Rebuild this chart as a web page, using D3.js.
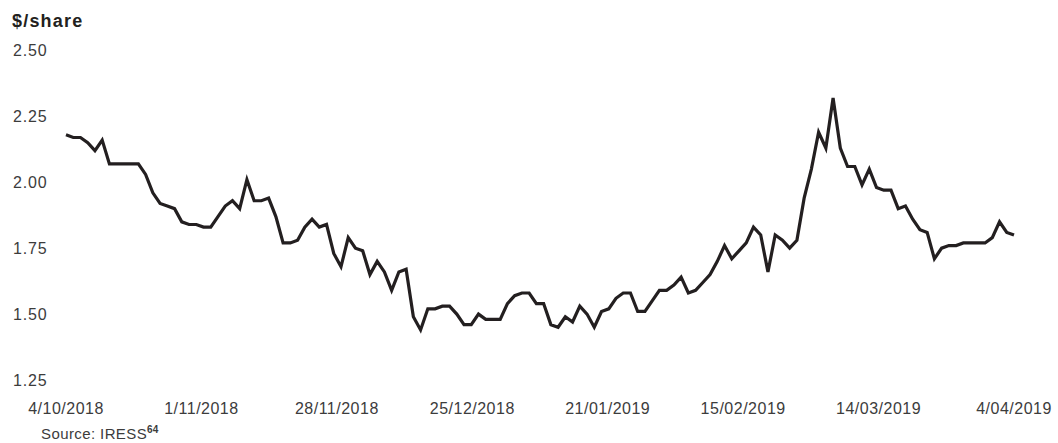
<!DOCTYPE html>
<html>
<head>
<meta charset="utf-8">
<script src="https://cdn.jsdelivr.net/npm/d3@7"></script>
<style>
  body { margin: 0; background: #fff; }
  text { font-family: "Liberation Sans", Arial, sans-serif; }
</style>
</head>
<body>
<div id="chart"></div>
<script>
// share price, one value per trading day
var prices = [
  2.18, 2.17, 2.17, 2.15, 2.12, 2.16, 2.07, 2.07, 2.07, 2.07,
  2.07, 2.03, 1.96, 1.92, 1.91, 1.90, 1.85, 1.84, 1.84, 1.83,
  1.83, 1.87, 1.91, 1.93, 1.90, 2.01, 1.93, 1.93, 1.94, 1.87,
  1.77, 1.77, 1.78, 1.83, 1.86, 1.83, 1.84, 1.73, 1.68, 1.79,
  1.75, 1.74, 1.65, 1.70, 1.66, 1.59, 1.66, 1.67, 1.49, 1.44,
  1.52, 1.52, 1.53, 1.53, 1.50, 1.46, 1.46, 1.50, 1.48, 1.48,
  1.48, 1.54, 1.57, 1.58, 1.58, 1.54, 1.54, 1.46, 1.45, 1.49,
  1.47, 1.53, 1.50, 1.45, 1.51, 1.52, 1.56, 1.58, 1.58, 1.51,
  1.51, 1.55, 1.59, 1.59, 1.61, 1.64, 1.58, 1.59, 1.62, 1.65,
  1.70, 1.76, 1.71, 1.74, 1.77, 1.83, 1.80, 1.66, 1.80, 1.78,
  1.75, 1.78, 1.94, 2.05, 2.19, 2.13, 2.32, 2.13, 2.06, 2.06,
  1.99, 2.05, 1.98, 1.97, 1.97, 1.90, 1.91, 1.86, 1.82, 1.81,
  1.71, 1.75, 1.76, 1.76, 1.77, 1.77, 1.77, 1.77, 1.79, 1.85,
  1.81, 1.80
];

var dateLabels = ["4/10/2018", "1/11/2018", "28/11/2018", "25/12/2018",
                  "21/01/2019", "15/02/2019", "14/03/2019", "4/04/2019"];

var yTicks = [2.50, 2.25, 2.00, 1.75, 1.50, 1.25];

var width = 1058;
var height = 443;

var svg = d3.select("#chart").append("svg")
    .attr("width", width)
    .attr("height", height);

var x = d3.scaleLinear()
    .domain([0, prices.length - 1])
    .range([66, 1014]);

var y = d3.scaleLinear()
    .domain([1.25, 2.50])
    .range([380, 50.5]);

// unit title
svg.append("text")
    .attr("x", 12)
    .attr("y", 27)
    .attr("font-size", 18)
    .attr("font-weight", "bold")
    .attr("letter-spacing", 1.2)
    .attr("fill", "#231f20")
    .text("$/share");

// y tick labels, no gridlines in the original
svg.append("g")
  .selectAll("text")
  .data(yTicks)
  .enter().append("text")
    .attr("x", 13)
    .attr("y", function(d) { return y(d); })
    .attr("dy", "0.36em")
    .attr("font-size", 16)
    .attr("letter-spacing", 0.8)
    .attr("fill", "#3c3c3c")
    .text(function(d) { return d3.format(".2f")(d); });

// date labels spread evenly along the category axis
var step = (prices.length - 1) / (dateLabels.length - 1);
svg.append("g")
  .selectAll("text")
  .data(dateLabels)
  .enter().append("text")
    .attr("x", function(d, i) { return x(i * step); })
    .attr("y", 408)
    .attr("dy", "0.36em")
    .attr("text-anchor", "middle")
    .attr("font-size", 16)
    .attr("letter-spacing", 0.5)
    .attr("fill", "#3c3c3c")
    .text(function(d) { return d; });

var line = d3.line()
    .x(function(d, i) { return x(i); })
    .y(function(d) { return y(d); });

svg.append("path")
    .datum(prices)
    .attr("fill", "none")
    .attr("stroke", "#231f20")
    .attr("stroke-width", 3.2)
    .attr("stroke-linejoin", "miter")
    .attr("d", line);

// source note
var src = svg.append("text")
    .attr("x", 41)
    .attr("y", 439)
    .attr("font-size", 15)
    .attr("letter-spacing", 0.4)
    .attr("fill", "#3c3c3c");
src.append("tspan").text("Source: IRESS");
src.append("tspan")
    .attr("font-size", 10)
    .attr("font-weight", "bold")
    .attr("letter-spacing", 0)
    .attr("dy", -6)
    .text("64");
</script>
</body>
</html>
